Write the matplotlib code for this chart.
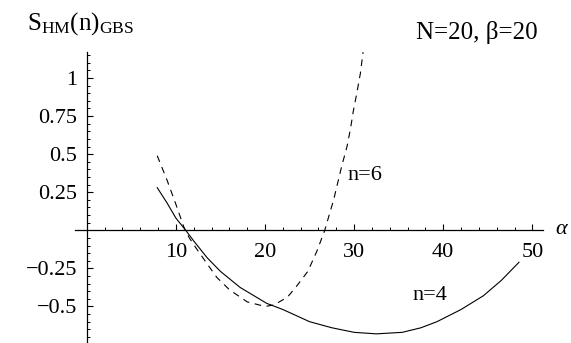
import matplotlib
matplotlib.use("Agg")
import matplotlib.pyplot as plt
from matplotlib.ticker import MultipleLocator

plt.rcParams['font.family'] = ['Liberation Serif', 'DejaVu Serif']
plt.rcParams['mathtext.fontset'] = 'custom'
plt.rcParams['mathtext.rm'] = 'Liberation Serif'
plt.rcParams['mathtext.it'] = 'Liberation Serif:italic'

# curve n=4 (solid)
alpha_n4 = [7.9, 9, 10, 11.1, 12, 13.5, 15, 17.2, 20.2, 22, 25, 27.5, 30, 32.5,
            35.4, 37.5, 39.3, 42, 44.5, 46.5, 48.5]
s_n4 = [0.28, 0.18, 0.08, 0.0, -0.07, -0.18, -0.27, -0.375, -0.48, -0.52, -0.6,
        -0.64, -0.67, -0.68, -0.67, -0.64, -0.6, -0.52, -0.43, -0.33, -0.21]

# curve n=6 (dashed)
alpha_n6 = [7.9, 9, 10, 10.9, 11.5, 12.3, 13.5, 14.6, 16, 18, 20, 21, 22.5, 23.5,
            24.8, 25.8, 26.7, 27.7, 28.6, 29.2, 29.6, 29.9, 30.3, 30.7, 31]
s_n6 = [0.49, 0.33, 0.17, 0.02, -0.05, -0.12, -0.22, -0.31, -0.39, -0.47, -0.5,
        -0.49, -0.44, -0.37, -0.27, -0.14, 0.0, 0.2, 0.42, 0.55, 0.67, 0.78,
        0.9, 1.03, 1.17]

x_ticks = [10, 20, 30, 40, 50]
y_ticks = [-0.5, -0.25, 0.25, 0.5, 0.75, 1]
y_ticklabels = ["\u22120.5", "\u22120.25", "0.25", "0.5", "0.75", "1"]

fig = plt.figure(figsize=(5.71, 3.43), dpi=100)
ax = fig.add_axes([0.131, 0.0, 0.82, 0.848])

ax.plot(alpha_n4, s_n4, color='black', lw=0.8)
ax.plot(alpha_n6, s_n6, color='black', lw=0.8, ls=(0, (6, 5)))

ax.set_xlim(-1.35, 51.2)
ax.set_ylim(-0.74, 1.17)

ax.spines['left'].set_position(('data', 0))
ax.spines['bottom'].set_position(('data', 0))
ax.spines['top'].set_visible(False)
ax.spines['right'].set_visible(False)
for sp in ('left', 'bottom'):
    ax.spines[sp].set_linewidth(0.9)

ax.set_xticks(x_ticks)
ax.set_xticklabels([str(t) for t in x_ticks])
ax.set_yticks(y_ticks)
ax.set_yticklabels(y_ticklabels)
ax.xaxis.set_minor_locator(MultipleLocator(2))
ax.yaxis.set_minor_locator(MultipleLocator(0.05))
ax.tick_params(which='major', direction='in', length=4, width=0.8, labelsize=16)
ax.tick_params(axis='x', which='major', pad=9)
ax.tick_params(axis='y', which='major', pad=7)
ax.tick_params(which='minor', direction='in', length=2.2, width=0.7)

ax.text(29.2, 0.36, "n=6", fontsize=16, ha='left', va='center')
ax.text(38.5, -0.43, "n=4", fontsize=16, ha='center', va='center')

fig.text(555 / 571, 1 - 229 / 343, r"$\alpha$", fontsize=16, ha='left', va='center')
fig.text(477 / 571, 1 - 33 / 343, "N=20, \u03b2=20", fontsize=18, ha='center', va='center')
fig.text(27 / 571, 1 - 24 / 343,
         r"$\mathrm{S}_{\mathrm{HM}}\mathrm{(n)}_{\mathrm{GBS}}$", fontsize=18,
         ha='left', va='center')

fig.savefig("out.png", dpi=100)
